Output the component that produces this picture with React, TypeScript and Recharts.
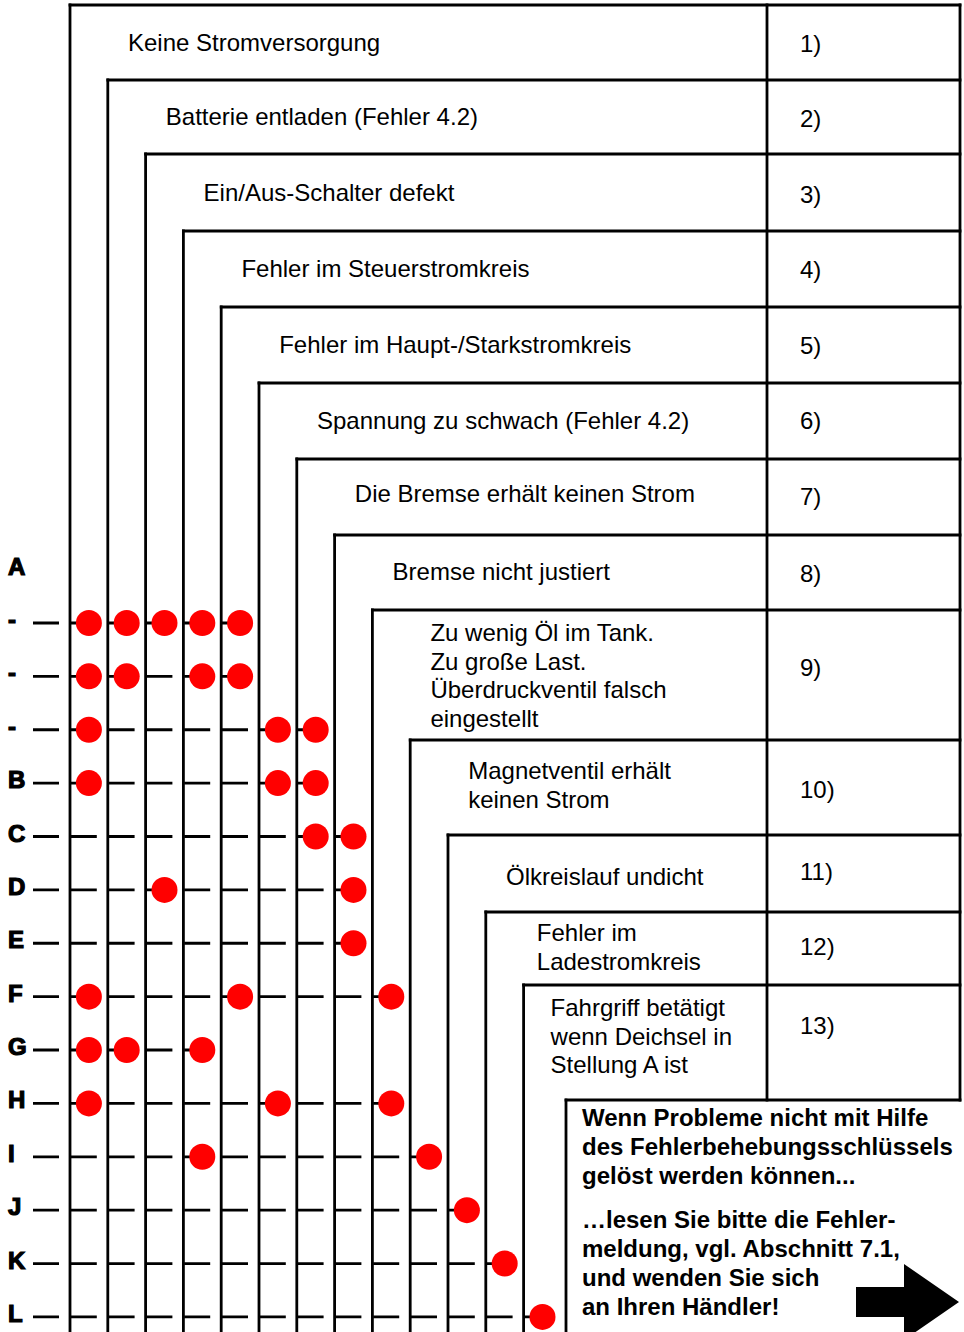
import React from 'react'
import { ComposedChart, XAxis, YAxis, Scatter, ReferenceLine, ReferenceDot } from 'recharts'

// rows of the matrix (A is a heading row without a line)
const ROW_LABELS = ['A', '-', '-', '-', 'B', 'C', 'D', 'E', 'F', 'G', 'H', 'I', 'J', 'K', 'L']

// fault columns (0-based) marked with a red dot in each row
const ROW_DOTS = [
  [],
  [0, 1, 2, 3, 4],
  [0, 1, 3, 4],
  [0, 5, 6],
  [0, 5, 6],
  [6, 7],
  [2, 7],
  [7],
  [0, 4, 8],
  [0, 1, 3],
  [0, 5, 8],
  [3, 9],
  [10],
  [11],
  [12],
]

const FAULTS = [
  ['Keine Stromversorgung'],
  ['Batterie entladen (Fehler 4.2)'],
  ['Ein/Aus-Schalter defekt'],
  ['Fehler im Steuerstromkreis'],
  ['Fehler im Haupt-/Starkstromkreis'],
  ['Spannung zu schwach (Fehler 4.2)'],
  ['Die Bremse erhält keinen Strom'],
  ['Bremse nicht justiert'],
  ['Zu wenig Öl im Tank.', 'Zu große Last.', 'Überdruckventil falsch', 'eingestellt'],
  ['Magnetventil erhält', 'keinen Strom'],
  ['Ölkreislauf undicht'],
  ['Fehler im', 'Ladestromkreis'],
  ['Fahrgriff betätigt', 'wenn Deichsel in', 'Stellung A ist'],
]

const FAULT_NUMBERS = ['1)', '2)', '3)', '4)', '5)', '6)', '7)', '8)', '9)', '10)', '11)', '12)', '13)']

const NOTE_FIRST = ['Wenn Probleme nicht mit Hilfe', 'des Fehlerbehebungsschlüssels', 'gelöst werden können...']
const NOTE_SECOND = ['…lesen Sie bitte die Fehler-', 'meldung, vgl. Abschnitt 7.1,', 'und wenden Sie sich', 'an Ihren Händler!']

// layout, in pixels
const W = 964
const H = 1332
const COL0 = 70
const COL_STEP = 37.8
const ROW0 = 569.6
const ROW_STEP = 53.38
const BOX_TOPS = [5, 80, 154, 231, 307, 383, 459, 535, 610, 740, 835, 912, 985]
const BOX_BOTTOM = 1100
const NUM_SPLIT = 767
const NUM_X = 800
const RIGHT = 960
const NOTE_LEFT = 566
const NOTE_X = 582
const ROW_LINE_START = 33
const LABEL_INDENT = [58, 58, 58, 58, 58, 58, 58, 58, 58, 58, 58, 51, 27]
const TEXT_SHIFT = [0, 0, 0, 0, 0, 0, -3, -1, 1, -2, 3, -1, -6]
const NUM_SHIFT = [1, 2, 2, 1, 1, 0, 0, 1, -7, 2, -2, -2, -17]
const FONT = '"Liberation Sans", Arial, Helvetica, sans-serif'

// pixel -> axis units (columns across, rows down)
const toCol = (px: number) => (px - COL0) / COL_STEP
const toRow = (px: number) => (px - ROW0) / ROW_STEP
const boxBottom = (i: number) => (i + 1 < BOX_TOPS.length ? BOX_TOPS[i + 1] : BOX_BOTTOM)

const dots = ROW_DOTS.flatMap((cols, r) => cols.map((c) => ({ x: c + 0.5, y: r })))

function textShape(lines: string[], bold = false, lineH = 28.7, baseShift = 8, heavy = 0) {
  return (p: any) => {
    const first = p.cy + baseShift - ((lines.length - 1) * lineH) / 2
    return (
      <text
        x={p.cx}
        y={first}
        fontFamily={FONT}
        fontSize={24}
        fontWeight={bold ? 'bold' : 'normal'}
        fill="#000"
        stroke={heavy ? '#000' : 'none'}
        strokeWidth={heavy}
        textAnchor="start"
      >
        {lines.map((l, k) => (
          <tspan key={k} x={p.cx} y={first + k * lineH}>
            {l}
          </tspan>
        ))}
      </text>
    )
  }
}

const arrowShape = (p: any) => {
  const { cx, cy } = p
  const pts = [
    [cx - 103, cy - 15],
    [cx - 55, cy - 15],
    [cx - 55, cy - 38],
    [cx, cy],
    [cx - 55, cy + 38],
    [cx - 55, cy + 15],
    [cx - 103, cy + 15],
  ]
  return <polygon points={pts.map((q) => q.join(',')).join(' ')} fill="#000" />
}

const ax = { xAxisId: 'col', yAxisId: 'row', ifOverflow: 'visible' as const }

export default function App() {
  // box outlines, as [x, y] pixel pairs
  const segs: [number, number, number, number][] = []
  BOX_TOPS.forEach((top, i) => {
    const x = COL0 + i * COL_STEP
    segs.push([x, top, x, H])
    segs.push([x, top, RIGHT, top])
  })
  segs.push([NUM_SPLIT, BOX_TOPS[0], NUM_SPLIT, BOX_BOTTOM])
  segs.push([RIGHT, BOX_TOPS[0], RIGHT, BOX_BOTTOM])
  segs.push([NOTE_LEFT, BOX_BOTTOM, RIGHT, BOX_BOTTOM])
  segs.push([NOTE_LEFT, BOX_BOTTOM, NOTE_LEFT, H])

  return (
    <div style={{ position: 'absolute', left: 0, top: 0, background: '#fff' }}>
      <ComposedChart width={W} height={H} margin={{ top: 0, right: 0, bottom: 0, left: 0 }}>
        <XAxis
          xAxisId="col"
          dataKey="x"
          type="number"
          domain={[toCol(0), toCol(W)]}
          hide
          allowDataOverflow
        />
        <YAxis
          yAxisId="row"
          dataKey="y"
          type="number"
          domain={[toRow(0), toRow(H)]}
          reversed
          hide
          allowDataOverflow
        />

        {segs.map((s, k) => (
          <ReferenceLine
            key={'s' + k}
            {...ax}
            stroke="#000"
            strokeWidth={2.8}
            strokeLinecap="square"
            segment={[
              { x: toCol(s[0]), y: toRow(s[1]) },
              { x: toCol(s[2]), y: toRow(s[3]) },
            ]}
          />
        ))}

        {ROW_DOTS.map((cols, r) =>
          cols.length ? (
            <ReferenceLine
              key={'r' + r}
              {...ax}
              stroke="#000"
              strokeWidth={2.8}
              strokeDasharray="26 11.8"
              segment={[
                { x: toCol(ROW_LINE_START), y: r },
                { x: Math.max(...cols) + 0.5, y: r },
              ]}
            />
          ) : null
        )}

        <Scatter
          data={dots}
          xAxisId="col"
          yAxisId="row"
          isAnimationActive={false}
          shape={(p: any) => <circle cx={p.cx} cy={p.cy} r={13} fill="#ff0000" />}
        />

        {ROW_LABELS.map((l, r) => (
          <ReferenceDot
            key={'l' + r}
            {...ax}
            x={toCol(8)}
            y={r}
            shape={textShape([l], true, 28.7, 5, 1.2)}
          />
        ))}

        {FAULTS.map((lines, i) => (
          <ReferenceDot
            key={'f' + i}
            {...ax}
            x={i + toCol(COL0 + LABEL_INDENT[i])}
            y={toRow((BOX_TOPS[i] + boxBottom(i)) / 2 + TEXT_SHIFT[i])}
            shape={textShape(lines)}
          />
        ))}

        {FAULT_NUMBERS.map((n, i) => (
          <ReferenceDot
            key={'n' + i}
            {...ax}
            x={toCol(NUM_X)}
            y={toRow((BOX_TOPS[i] + boxBottom(i)) / 2 + NUM_SHIFT[i])}
            shape={textShape([n])}
          />
        ))}

        <ReferenceDot {...ax} x={toCol(NOTE_X)} y={toRow(1147)} shape={textShape(NOTE_FIRST, true, 29)} />
        <ReferenceDot {...ax} x={toCol(NOTE_X)} y={toRow(1263.5)} shape={textShape(NOTE_SECOND, true, 29)} />
        <ReferenceDot {...ax} x={toCol(959)} y={toRow(1302)} shape={arrowShape} />
      </ComposedChart>
    </div>
  )
}
